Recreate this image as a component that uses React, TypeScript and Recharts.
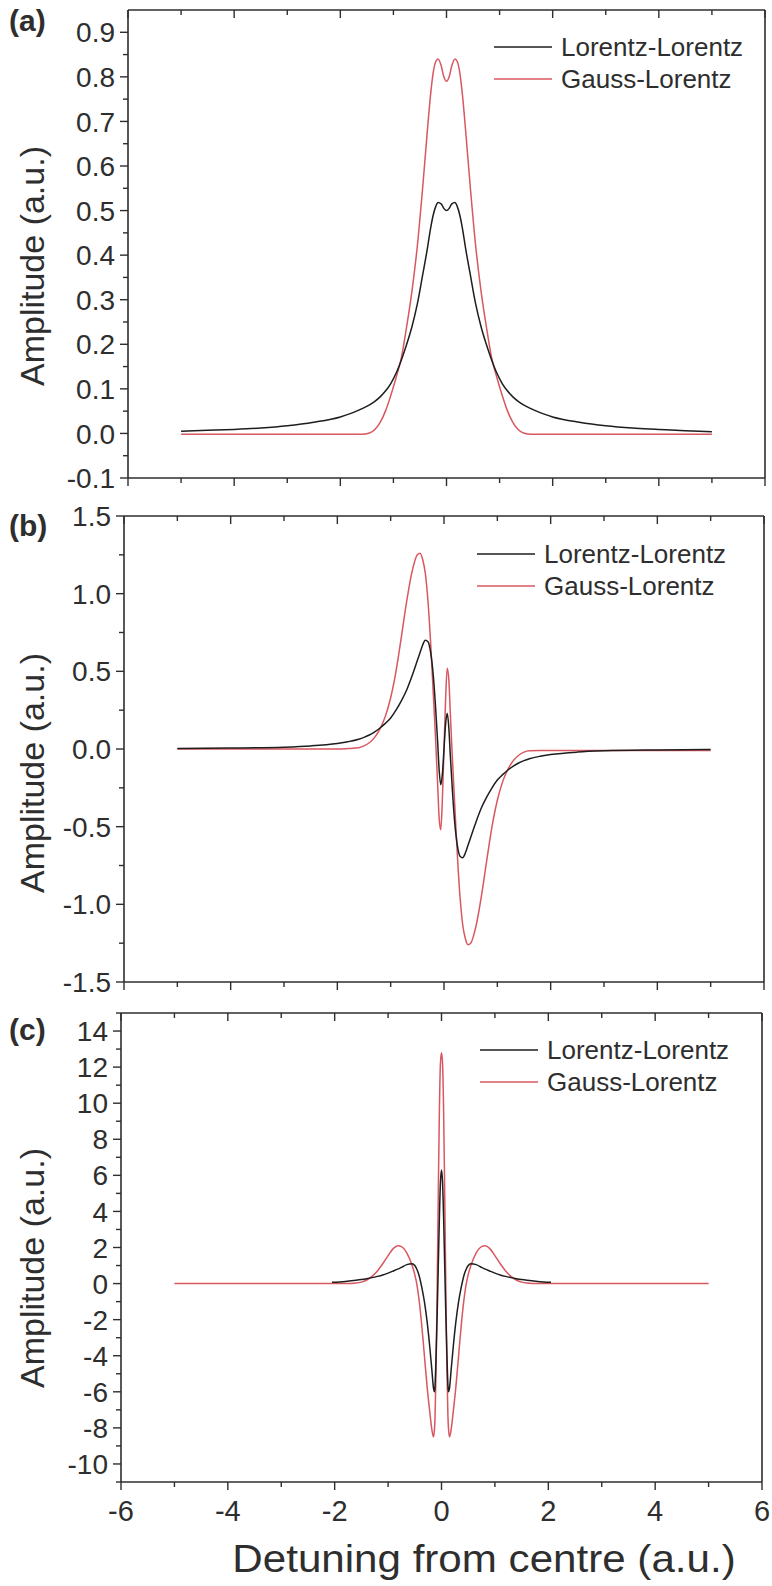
import React from "react";
import { LineChart, Line, XAxis, YAxis } from "recharts";

// ---- panel (a): absorption-like profile ----
const xA = [
  -5, -4.5, -4, -3.5, -3, -2.5, -2, -1.8, -1.6, -1.45, -1.35, -1.25, -1.15, -1.05,
  -0.95, -0.85, -0.75, -0.65, -0.55, -0.45, -0.36, -0.3, -0.25, -0.2, -0.16, -0.1, -0.05,
  0,
  0.05, 0.1, 0.16, 0.2, 0.25, 0.3, 0.36, 0.45, 0.55, 0.65, 0.75, 0.85, 0.95, 1.05,
  1.15, 1.25, 1.35, 1.45, 1.6, 1.8, 2, 2.5, 3, 3.5, 4, 4.5, 5,
];
const lorentzA = [
  0.005, 0.007, 0.009, 0.012, 0.017, 0.025, 0.037, 0.045, 0.055, 0.064, 0.072, 0.082, 0.095, 0.112,
  0.135, 0.165, 0.2, 0.24, 0.29, 0.355, 0.415, 0.46, 0.49, 0.51, 0.518, 0.515, 0.505,
  0.5,
  0.505, 0.515, 0.518, 0.51, 0.49, 0.46, 0.415, 0.355, 0.29, 0.24, 0.2, 0.165, 0.135, 0.112,
  0.095, 0.082, 0.072, 0.064, 0.055, 0.045, 0.037, 0.025, 0.017, 0.012, 0.009, 0.006, 0.004,
];
const gaussA = [
  -0.002, -0.002, -0.002, -0.002, -0.002, -0.002, -0.002, -0.002, -0.002, 0.001, 0.009, 0.025, 0.05, 0.085,
  0.125, 0.17, 0.24, 0.32, 0.42, 0.55, 0.68, 0.76, 0.81, 0.835, 0.84, 0.825, 0.8,
  0.79,
  0.8, 0.825, 0.84, 0.835, 0.81, 0.76, 0.68, 0.55, 0.42, 0.32, 0.24, 0.17, 0.125, 0.085,
  0.05, 0.025, 0.009, 0.001, -0.002, -0.002, -0.002, -0.002, -0.002, -0.002, -0.002, -0.002, -0.002,
];

// ---- panel (b): dispersion-like profile ----
const xB = [
  -5, -4, -3, -2.5, -2, -1.8, -1.6, -1.5, -1.4, -1.3, -1.2, -1.1, -1.0, -0.9, -0.8,
  -0.7, -0.6, -0.5, -0.45, -0.4, -0.35, -0.3, -0.25, -0.2, -0.16, -0.12, -0.09, -0.06, -0.03,
  0,
  0.03, 0.06, 0.09, 0.12, 0.16, 0.2, 0.25, 0.3, 0.35, 0.4, 0.45, 0.5, 0.6, 0.7,
  0.8, 0.9, 1.0, 1.1, 1.2, 1.3, 1.4, 1.5, 1.6, 1.8, 2, 2.5, 3, 4, 5,
];
const lorentzB = [
  0.003, 0.006, 0.012, 0.02, 0.036, 0.047, 0.063, 0.075, 0.09, 0.11, 0.135, 0.165, 0.2, 0.25, 0.31,
  0.38, 0.47, 0.57, 0.62, 0.67, 0.7, 0.69, 0.62, 0.47, 0.28, 0.05, -0.14, -0.23, -0.16,
  0,
  0.16, 0.23, 0.14, -0.05, -0.28, -0.47, -0.62, -0.69, -0.7, -0.67, -0.62, -0.57, -0.47, -0.38,
  -0.31, -0.25, -0.2, -0.165, -0.135, -0.11, -0.09, -0.075, -0.063, -0.047, -0.036, -0.02, -0.012, -0.006, -0.003,
];
const gaussB = [
  0, 0, 0, 0, 0, 0.003, 0.008, 0.02, 0.04, 0.075, 0.13, 0.21, 0.33, 0.5, 0.72,
  0.95, 1.14, 1.25, 1.26, 1.22, 1.13, 0.95, 0.68, 0.35, 0.08, -0.22, -0.45, -0.52, -0.32,
  0,
  0.32, 0.52, 0.45, 0.22, -0.08, -0.35, -0.68, -0.95, -1.13, -1.22, -1.26, -1.25, -1.14, -0.95,
  -0.72, -0.5, -0.33, -0.21, -0.13, -0.075, -0.04, -0.02, -0.012, -0.01, -0.01, -0.01, -0.01, -0.01, -0.01,
];

// ---- panel (c): second-derivative-like profile ----
const xC = [
  -5, -4, -3, -2.5, -2.05, -1.8, -1.6, -1.5, -1.4, -1.3, -1.2, -1.1, -1.0, -0.9, -0.82, -0.75, -0.65,
  -0.55, -0.5, -0.47, -0.42, -0.37, -0.32, -0.27, -0.22, -0.18, -0.15, -0.13, -0.12, -0.1, -0.08, -0.06, -0.04, -0.02,
  0,
  0.02, 0.04, 0.06, 0.08, 0.1, 0.12, 0.13, 0.15, 0.18, 0.22, 0.27, 0.32, 0.37, 0.42, 0.47, 0.5, 0.55,
  0.65, 0.75, 0.82, 0.9, 1.0, 1.1, 1.2, 1.3, 1.4, 1.5, 1.6, 1.8, 2.05, 2.5, 3, 4, 5,
];
const lorentzC = [
  null, null, null, null, 0.07, 0.12, 0.18, 0.22, 0.27, 0.33, 0.4, 0.48, 0.58, 0.7, 0.8, 0.9, 1.05,
  1.1, 1.0, 0.85, 0.45, -0.2, -1.0, -2.1, -3.5, -4.8, -5.8, -6.0, -5.6, -3.8, -1.6, 1.0, 3.6, 5.6,
  6.3,
  5.6, 3.6, 1.0, -1.6, -3.8, -5.6, -6.0, -5.8, -4.8, -3.5, -2.1, -1.0, -0.2, 0.45, 0.85, 1.0, 1.1,
  1.05, 0.9, 0.8, 0.7, 0.58, 0.48, 0.4, 0.33, 0.27, 0.22, 0.18, 0.12, 0.07, null, null, null, null,
];
const gaussC = [
  0, 0, 0, 0, 0, 0, 0.03, 0.08, 0.2, 0.4, 0.7, 1.1, 1.55, 1.95, 2.1, 2.05, 1.7,
  1.0, 0.5, 0.1, -0.9, -2.3, -4.0, -5.7, -7.1, -8.1, -8.5, -8.0, -7.3, -4.5, 0.0, 5.0, 9.5, 12.2,
  12.8,
  12.2, 9.5, 5.0, 0.0, -4.5, -7.3, -8.0, -8.5, -8.1, -7.1, -5.7, -4.0, -2.3, -0.9, 0.1, 0.5, 1.0,
  1.7, 2.05, 2.1, 1.95, 1.55, 1.1, 0.7, 0.4, 0.2, 0.08, 0.03, 0, 0, 0, 0, 0, 0,
];

// ---- ticks ----
const xTicks = [-6, -5, -4, -3, -2, -1, 0, 1, 2, 3, 4, 5, 6];
const xMajor = [-6, -4, -2, 0, 2, 4, 6];
const yTicksA = [-0.1, -0.05, 0, 0.05, 0.1, 0.15, 0.2, 0.25, 0.3, 0.35, 0.4, 0.45, 0.5, 0.55, 0.6, 0.65, 0.7, 0.75, 0.8, 0.85, 0.9];
const yMajorA = [-0.1, 0, 0.1, 0.2, 0.3, 0.4, 0.5, 0.6, 0.7, 0.8, 0.9];
const yTicksB = [-1.5, -1.25, -1, -0.75, -0.5, -0.25, 0, 0.25, 0.5, 0.75, 1, 1.25, 1.5];
const yMajorB = [-1.5, -1, -0.5, 0, 0.5, 1, 1.5];
const yTicksC = [-11, -10, -9, -8, -7, -6, -5, -4, -3, -2, -1, 0, 1, 2, 3, 4, 5, 6, 7, 8, 9, 10, 11, 12, 13, 14, 15];
const yMajorC = [-10, -8, -6, -4, -2, 0, 2, 4, 6, 8, 10, 12, 14];

const SERIES = [
  { key: "ll", name: "Lorentz-Lorentz", color: "#1e1e1e" },
  { key: "gl", name: "Gauss-Lorentz", color: "#d9575f" },
];

const FONT = "'Liberation Sans', Arial, sans-serif";
const INK = "#2e2e2e";

const rows = (xs: number[], ll: (number | null)[], gl: (number | null)[]) =>
  xs.map((x, i) => ({ x, ll: ll[i], gl: gl[i] }));

const isIn = (v: number, list: number[]) => list.some((m) => Math.abs(m - v) < 1e-6);

// draws tick marks (and labels when asked); axes have tickSize 0 so x/y sit on the axis line
const makeTick =
  (side: "bottom" | "top" | "left" | "right", majors: number[], fmt?: (v: number) => string) =>
  (props: any) => {
    const { x, y, payload } = props;
    const v = payload.value as number;
    const major = isIn(v, majors);
    const len = major ? 8 : 5;
    const s = { stroke: INK, strokeWidth: 1.4 };
    let mark;
    if (side === "bottom" || side === "top") mark = <line x1={x} y1={y} x2={x} y2={y + len} {...s} />;
    else mark = <line x1={x} y1={y} x2={x - len} y2={y} {...s} />;
    let label = null;
    if (fmt && major) {
      if (side === "left")
        label = (
          <text x={x - 13} y={y} dy="0.36em" textAnchor="end" fontSize={28} fill={INK} fontFamily={FONT}>
            {fmt(v)}
          </text>
        );
      if (side === "bottom")
        label = (
          <text x={x} y={y + 39} textAnchor="middle" fontSize={29} fill={INK} fontFamily={FONT}>
            {fmt(v)}
          </text>
        );
    }
    return (
      <g>
        {mark}
        {label}
      </g>
    );
  };

type Box = { top: number; right: number; bottom: number; left: number };

type PanelProps = {
  top: number;
  height: number;
  plot: Box; // plot-area edges in panel coordinates
  data: { x: number; ll: number | null; gl: number | null }[];
  yDomain: [number, number];
  yTicks: number[];
  yMajor: number[];
  yFmt: (v: number) => string;
  xLabels?: boolean;
  legendTop: number;
  legendLeft: number;
  tag: string;
  tagTop: number;
  titleShift: number;
};

function Panel(p: PanelProps) {
  const axisLine = { stroke: INK, strokeWidth: 1.6 };
  // each axis takes 1px, so shrink the margin by that much
  const margin = {
    top: p.plot.top - 1,
    left: p.plot.left - 1,
    right: 772 - p.plot.right - 1,
    bottom: p.height - p.plot.bottom - 1,
  };
  const midY = (p.plot.top + p.plot.bottom) / 2;
  return (
    <div style={{ position: "absolute", left: 0, top: p.top, width: 772, height: p.height }}>
      <LineChart width={772} height={p.height} data={p.data} margin={margin}>
        <XAxis
          xAxisId="b"
          dataKey="x"
          type="number"
          domain={[-6, 6]}
          ticks={xTicks}
          interval={0}
          height={1}
          tickSize={0}
          tickMargin={0}
          tickLine={false}
          axisLine={axisLine}
          tick={makeTick("bottom", xMajor, p.xLabels ? (v) => String(v) : undefined)}
        />
        <XAxis
          xAxisId="t"
          orientation="top"
          dataKey="x"
          type="number"
          domain={[-6, 6]}
          ticks={xTicks}
          interval={0}
          height={1}
          tickSize={0}
          tickMargin={0}
          tickLine={false}
          axisLine={axisLine}
          tick={makeTick("top", xMajor)}
        />
        <YAxis
          yAxisId="l"
          type="number"
          domain={p.yDomain}
          ticks={p.yTicks}
          interval={0}
          width={1}
          tickSize={0}
          tickMargin={0}
          tickLine={false}
          axisLine={axisLine}
          tick={makeTick("left", p.yMajor, p.yFmt)}
        />
        <YAxis
          yAxisId="r"
          orientation="right"
          type="number"
          domain={p.yDomain}
          ticks={p.yTicks}
          interval={0}
          width={1}
          tickSize={0}
          tickMargin={0}
          tickLine={false}
          axisLine={axisLine}
          tick={makeTick("right", p.yMajor)}
        />
        <Line
          xAxisId="b"
          yAxisId="l"
          dataKey="gl"
          name="Gauss-Lorentz"
          type="monotone"
          stroke={SERIES[1].color}
          strokeWidth={1.5}
          dot={false}
          isAnimationActive={false}
        />
        <Line
          xAxisId="b"
          yAxisId="l"
          dataKey="ll"
          name="Lorentz-Lorentz"
          type="monotone"
          stroke={SERIES[0].color}
          strokeWidth={1.5}
          dot={false}
          isAnimationActive={false}
        />
      </LineChart>

      {/* legend */}
      <div style={{ position: "absolute", left: p.legendLeft, top: p.legendTop }}>
        {SERIES.map((s) => (
          <div key={s.key} style={{ display: "flex", alignItems: "center", height: 32 }}>
            <svg width={58} height={4} style={{ marginRight: 9 }}>
              <line x1={0} y1={2} x2={58} y2={2} stroke={s.color} strokeWidth={1.5} />
            </svg>
            <span style={{ fontSize: 26, color: INK, fontFamily: FONT, lineHeight: "32px" }}>{s.name}</span>
          </div>
        ))}
      </div>

      {/* panel tag */}
      <div
        style={{
          position: "absolute",
          left: 9,
          top: p.tagTop,
          fontSize: 30,
          fontWeight: "bold",
          color: INK,
          fontFamily: FONT,
          lineHeight: 1,
        }}
      >
        {p.tag}
      </div>

      {/* y axis title */}
      <div
        style={{
          position: "absolute",
          left: 32,
          top: midY + p.titleShift,
          transform: "translate(-50%, -50%) rotate(-90deg)",
          whiteSpace: "nowrap",
          fontSize: 34,
          color: INK,
          fontFamily: FONT,
        }}
      >
        Amplitude (a.u.)
      </div>
    </div>
  );
}

export default function App() {
  const f1 = (v: number) => v.toFixed(1);
  const f0 = (v: number) => String(v);
  return (
    <div style={{ position: "absolute", left: 0, top: 0, width: 772, height: 1586, background: "#fff", overflow: "hidden" }}>
      <Panel
        top={0}
        height={497}
        plot={{ top: 10, right: 765, bottom: 478, left: 128 }}
        data={rows(xA, lorentzA, gaussA)}
        yDomain={[-0.1, 0.95]}
        yTicks={yTicksA}
        yMajor={yMajorA}
        yFmt={f1}
        legendTop={31}
        legendLeft={494}
        tag="(a)"
        tagTop={6}
        titleShift={22}
      />
      <Panel
        top={497}
        height={503}
        plot={{ top: 19, right: 764, bottom: 485, left: 124 }}
        data={rows(xB, lorentzB, gaussB)}
        yDomain={[-1.5, 1.5]}
        yTicks={yTicksB}
        yMajor={yMajorB}
        yFmt={f1}
        legendTop={41}
        legendLeft={477}
        tag="(b)"
        tagTop={14}
        titleShift={24}
      />
      <Panel
        top={1000}
        height={586}
        plot={{ top: 13, right: 762, bottom: 482, left: 121 }}
        data={rows(xC, lorentzC, gaussC)}
        yDomain={[-11, 15]}
        yTicks={yTicksC}
        yMajor={yMajorC}
        yFmt={f0}
        xLabels
        legendTop={34}
        legendLeft={480}
        tag="(c)"
        tagTop={15}
        titleShift={20}
      />
      <div
        style={{
          position: "absolute",
          left: 484,
          top: 1559,
          transform: "translate(-50%, -50%) scaleX(1.08)",
          whiteSpace: "nowrap",
          fontSize: 39,
          lineHeight: "44px",
          color: INK,
          fontFamily: FONT,
        }}
      >
        Detuning from centre (a.u.)
      </div>
    </div>
  );
}
